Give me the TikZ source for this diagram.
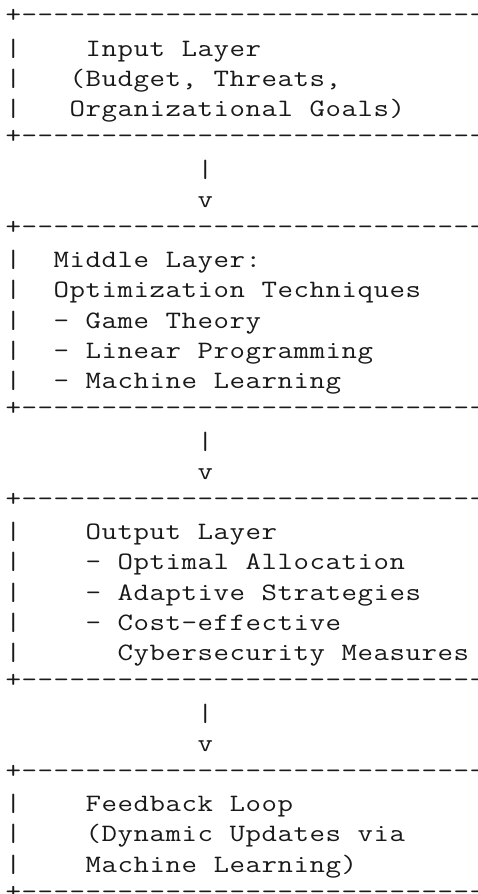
\documentclass[tikz,border=0pt]{standalone}
\usepackage{fontspec}
\setmonofont[FakeStretch=1.2]{Latin Modern Mono}
\ExplSyntaxOn
\NewDocumentCommand\monoline{m}
  { \str_map_inline:nn {#1} { \hbox_to_wd:nn {16pt} { \hss ##1 \hss } } }
\NewDocumentCommand\dashcells{m}
  { \hbox_to_wd:nn {16pt} { \hss + \hss }
    \prg_replicate:nn {#1} { \hbox_to_wd:nn {16pt} { \hss - \hss } } }
\ExplSyntaxOff
\def\pitch{30.22}
\def\dashlift{3}
\newcommand\asciiline[4]{%
  \node[txt] (#1) at ({5.3+16*#3},{894-(26+\pitch*(#2-1))}) {\monoline{#4}};}
\newcommand\dashline[2]{%
  \node[txt] (#1) at (5.3,{894-(26+\pitch*(#2-1))+\dashlift}) {\dashcells{30}};}
\tikzset{txt/.style={anchor=base west,inner sep=0pt,outer sep=0pt,text=black!90,
  font=\ttfamily\fontsize{25}{30}\selectfont}}
\begin{document}
\begin{tikzpicture}[x=1pt,y=1pt]
\useasboundingbox (0,0) rectangle (477,894);
\clip (0,0) rectangle (477,894);
\fill[white] (0,0) rectangle (477,894);
% Input layer
\dashline{top1}{1}
\asciiline{bar2}{2}{0}{|}
\asciiline{in1}{2}{5}{Input Layer}
\asciiline{bar3}{3}{0}{|}
\asciiline{in2}{3}{4}{(Budget, Threats,}
\asciiline{bar4}{4}{0}{|}
\asciiline{in3}{4}{4}{Organizational Goals)}
\dashline{bot1}{5}
% connector
\asciiline{c1a}{6}{12}{|}
\asciiline{c1b}{7}{12}{v}
% Middle layer
\dashline{top2}{8}
\asciiline{bar9}{9}{0}{|}
\asciiline{mid1}{9}{3}{Middle Layer:}
\asciiline{bar10}{10}{0}{|}
\asciiline{mid2}{10}{3}{Optimization Techniques}
\asciiline{bar11}{11}{0}{|}
\asciiline{mid3}{11}{3}{- Game Theory}
\asciiline{bar12}{12}{0}{|}
\asciiline{mid4}{12}{3}{- Linear Programming}
\asciiline{bar13}{13}{0}{|}
\asciiline{mid5}{13}{3}{- Machine Learning}
\dashline{bot2}{14}
% connector
\asciiline{c2a}{15}{12}{|}
\asciiline{c2b}{16}{12}{v}
% Output layer
\dashline{top3}{17}
\asciiline{bar18}{18}{0}{|}
\asciiline{out1}{18}{5}{Output Layer}
\asciiline{bar19}{19}{0}{|}
\asciiline{out2}{19}{5}{- Optimal Allocation}
\asciiline{bar20}{20}{0}{|}
\asciiline{out3}{20}{5}{- Adaptive Strategies}
\asciiline{bar21}{21}{0}{|}
\asciiline{out4}{21}{5}{- Cost-effective}
\asciiline{bar22}{22}{0}{|}
\asciiline{out5}{22}{7}{Cybersecurity Measures}
\dashline{bot3}{23}
% connector
\asciiline{c3a}{24}{12}{|}
\asciiline{c3b}{25}{12}{v}
% Feedback loop
\dashline{top4}{26}
\asciiline{bar27}{27}{0}{|}
\asciiline{fb1}{27}{5}{Feedback Loop}
\asciiline{bar28}{28}{0}{|}
\asciiline{fb2}{28}{5}{(Dynamic Updates via}
\asciiline{bar29}{29}{0}{|}
\asciiline{fb3}{29}{5}{Machine Learning)}
\dashline{bot4}{30}
\end{tikzpicture}
\end{document}
